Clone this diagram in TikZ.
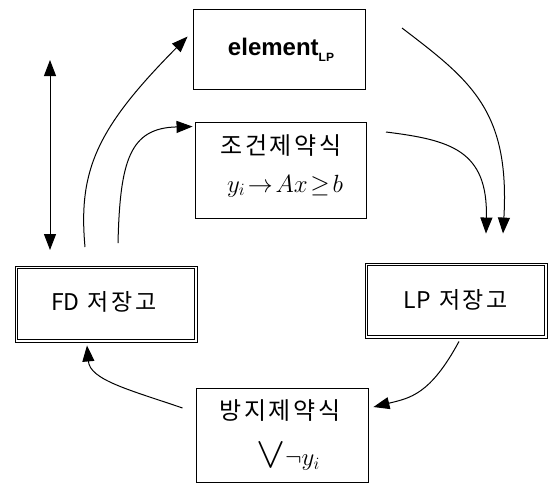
\documentclass[tikz,border=0pt]{standalone}
\usepackage{fontspec}
\usepackage{graphicx}
\setsansfont{Liberation Sans}
\newfontfamily\kr[LetterSpace=12]{Noto Sans CJK KR}
\newfontfamily\krl{Noto Sans CJK KR}
\usetikzlibrary{arrows.meta,calc}
\tikzset{
  box/.style={draw=black, line width=0.9pt, rectangle, inner sep=0pt},
  inner/.style={draw=black, line width=0.9pt},
  conn/.style={line width=1pt, -{Triangle[length=16pt,width=12pt]}},
  krtext/.style={font=\kr\fontsize{24}{28}\selectfont, inner sep=0pt},
  krsmall/.style={font=\kr\fontsize{23}{26}\selectfont, inner sep=0pt},
}
\begin{document}
\begin{tikzpicture}[x=1pt,y=-1pt]
\useasboundingbox (0,0) rectangle (551,483);
% boxes
\node[box, minimum width=172pt, minimum height=80pt] (elem) at (279,49) {};
\node[inner sep=0pt, font=\sffamily\bfseries\fontsize{24}{28}\selectfont] (elemt) at (281,50) {element\raisebox{-0.45ex}{\fontsize{12}{13}\selectfont LP}};
\node[box, minimum width=171pt, minimum height=96pt] (cond) at (280.5,170) {};
\node[krtext] (cond1) at (281,146) {조건제약식};
\node[inner sep=0pt, font=\fontsize{24}{28}\selectfont] (cond2) at (285,186) {$y_i\!\rightarrow\! Ax\!\geq\! b$};
\node[box, minimum width=182pt, minimum height=76pt] (fd) at (106,304) {};
\draw[inner] ($(fd.north west)+(3,3)$) rectangle ($(fd.south east)+(-3,-3)$);
\node[krsmall] (fdt) at (104,302) {{\krl FD}\hspace{8pt}저장고};
\node[box, minimum width=182pt, minimum height=75pt] (lp) at (456,300.5) {};
\draw[inner] ($(lp.north west)+(3,3)$) rectangle ($(lp.south east)+(-3,-3)$);
\node[krsmall] (lpt) at (456,300) {{\krl LP}\hspace{8pt}저장고};
\node[box, minimum width=172pt, minimum height=94pt] (prev) at (282,435) {};
\node[krtext] (prev1) at (280,411) {방지제약식};
\node[inner sep=0pt, font=\fontsize{27}{28}\selectfont] (prev2) at (288,457) {$\raisebox{-2pt}{\scalebox{1.75}{$\vee$}}\neg y_i$};
% free ends
\coordinate (va) at (50,60);
\coordinate (vb) at (50,250);
\coordinate (s1) at (85,247);
\coordinate (s2) at (118,243);
\coordinate (s3) at (402,28);
\coordinate (s4) at (386,132);
% connectors
\draw[line width=1pt, {Triangle[length=16pt,width=12pt]}-{Triangle[length=16pt,width=12pt]}] (va) -- (vb);
\draw[conn] (s1) .. controls (78,170) and (97,128) .. ($(elem.north west)+(-5,28)$);
\draw[conn] (s2) .. controls (120,160) and (130,128) .. ($(cond.north west)+(-2,5)$);
\draw[conn] (s3) .. controls (470,80) and (510,110) .. ($(lp.north)+(47,-29)$);
\draw[conn] (s4) .. controls (450,140) and (488,150) .. ($(lp.north)+(30,-29)$);
\draw[conn] ($(lp.south)+(3,3)$) .. controls (430,395) and (410,398) .. ($(prev.east)+(5,-28)$);
\draw[conn] ($(prev.west)+(-13,-27)$) .. controls (130,390) and (90,380) .. ($(fd.south)+(-19,3)$);
\end{tikzpicture}
\end{document}
